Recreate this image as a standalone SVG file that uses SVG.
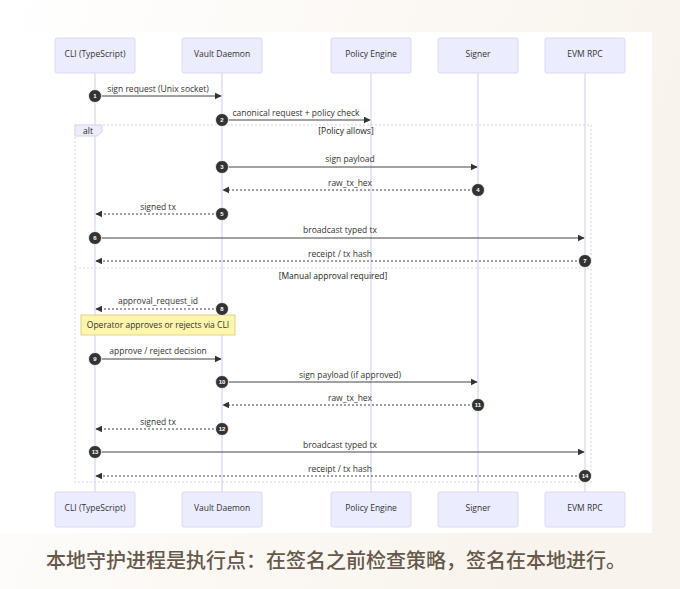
<svg xmlns="http://www.w3.org/2000/svg" width="680" height="589" viewBox="0 0 680 589">
<defs>
<linearGradient id="bg" x1="0" y1="0" x2="1" y2="0.3">
<stop offset="0" stop-color="#ffffff"/>
<stop offset="0.5" stop-color="#fcf9f5"/>
<stop offset="1" stop-color="#f8f3ec"/>
</linearGradient>
<marker id="ah" viewBox="0 0 10 10" refX="9" refY="5" markerWidth="7" markerHeight="7" orient="auto-start-reverse" markerUnits="userSpaceOnUse">
<path d="M0,0 L10,5 L0,10 z" fill="#333"/>
</marker>
<style>
.actor{fill:#ececff;stroke:#dcd8f4;stroke-width:1}
.atext{font-family:"Open Sans","Liberation Sans",sans-serif;font-size:8.5px;fill:#333;text-anchor:middle;dominant-baseline:central}
.life{stroke:#d9d5ef;stroke-width:1.2}
.msg{stroke:#444;stroke-width:1.2;fill:none}
.dash{stroke:#444;stroke-width:1.1;fill:none;stroke-dasharray:2,2}
.mtext{font-family:"Open Sans","Liberation Sans",sans-serif;font-size:8.5px;fill:#333;text-anchor:middle}
.num{fill:#333;stroke:#fff;stroke-width:0.8}
.ntext{font-family:"Liberation Sans",sans-serif;font-size:6px;fill:#fff;text-anchor:middle;dominant-baseline:central;font-weight:bold}
.frame{fill:none;stroke:#d6d6e6;stroke-width:1;stroke-dasharray:2,2}
.ftext{font-family:"Open Sans","Liberation Sans",sans-serif;font-size:8.5px;fill:#222;text-anchor:middle}
</style>
</defs>
<rect x="0" y="0" width="680" height="589" fill="url(#bg)"/>
<rect x="0" y="32" width="652" height="501" fill="#ffffff"/>

<g id="lifelines">
<line class="life" x1="95" y1="73" x2="95" y2="492"/>
<line class="life" x1="222" y1="73" x2="222" y2="492"/>
<line class="life" x1="371" y1="73" x2="371" y2="492"/>
<line class="life" x1="478" y1="73" x2="478" y2="492"/>
<line class="life" x1="585" y1="73" x2="585" y2="492"/>
</g>

<g id="frame-alt">
<rect class="frame" x="75" y="125" width="516" height="357"/>
<path d="M75,125 L102,125 L102,132 L97,136 L75,136 z" fill="#ececff" stroke="#d6d6e6" stroke-width="1"/>
<text class="ftext" x="88" y="134">alt</text>
<text class="ftext" x="346" y="134">[Policy allows]</text>
<line class="frame" x1="75" y1="268" x2="591" y2="268"/>
<text class="ftext" x="333" y="279">[Manual approval required]</text>
</g>

<g id="actor-cli-top"><rect class="actor" x="55" y="38" width="80" height="35" rx="2"/><text class="atext" x="95" y="53">CLI (TypeScript)</text></g>
<g id="actor-vault-top"><rect class="actor" x="182" y="38" width="80" height="35" rx="2"/><text class="atext" x="222" y="53">Vault Daemon</text></g>
<g id="actor-policy-top"><rect class="actor" x="331" y="38" width="80" height="35" rx="2"/><text class="atext" x="371" y="53">Policy Engine</text></g>
<g id="actor-signer-top"><rect class="actor" x="438" y="38" width="80" height="35" rx="2"/><text class="atext" x="478" y="53">Signer</text></g>
<g id="actor-evm-top"><rect class="actor" x="545" y="38" width="80" height="35" rx="2"/><text class="atext" x="585" y="53">EVM RPC</text></g>

<g id="actor-cli-bottom"><rect class="actor" x="55" y="492" width="80" height="35" rx="2"/><text class="atext" x="95" y="507">CLI (TypeScript)</text></g>
<g id="actor-vault-bottom"><rect class="actor" x="182" y="492" width="80" height="35" rx="2"/><text class="atext" x="222" y="507">Vault Daemon</text></g>
<g id="actor-policy-bottom"><rect class="actor" x="331" y="492" width="80" height="35" rx="2"/><text class="atext" x="371" y="507">Policy Engine</text></g>
<g id="actor-signer-bottom"><rect class="actor" x="438" y="492" width="80" height="35" rx="2"/><text class="atext" x="478" y="507">Signer</text></g>
<g id="actor-evm-bottom"><rect class="actor" x="545" y="492" width="80" height="35" rx="2"/><text class="atext" x="585" y="507">EVM RPC</text></g>

<g id="note">
<rect x="81" y="315" width="154" height="20" fill="#fff5ad" stroke="#e0d488" stroke-width="1"/>
<text class="mtext" x="158" y="328" fill="#222">Operator approves or rejects via CLI</text>
</g>

<g id="connectors">
<text class="mtext" x="158" y="92">sign request (Unix socket)</text>
<line class="msg" x1="95" y1="96" x2="221" y2="96" marker-end="url(#ah)"/>
<text class="mtext" x="296" y="116">canonical request + policy check</text>
<line class="msg" x1="222" y1="120" x2="370" y2="120" marker-end="url(#ah)"/>
<text class="mtext" x="350" y="162">sign payload</text>
<line class="msg" x1="222" y1="167" x2="477" y2="167" marker-end="url(#ah)"/>
<text class="mtext" x="350" y="186">raw_tx_hex</text>
<line class="dash" x1="478" y1="190" x2="223" y2="190" marker-end="url(#ah)"/>
<text class="mtext" x="158" y="210">signed tx</text>
<line class="dash" x1="222" y1="214" x2="96" y2="214" marker-end="url(#ah)"/>
<text class="mtext" x="340" y="233">broadcast typed tx</text>
<line class="msg" x1="95" y1="238" x2="584" y2="238" marker-end="url(#ah)"/>
<text class="mtext" x="340" y="257">receipt / tx hash</text>
<line class="dash" x1="585" y1="261" x2="96" y2="261" marker-end="url(#ah)"/>
<text class="mtext" x="158" y="304">approval_request_id</text>
<line class="dash" x1="222" y1="309" x2="96" y2="309" marker-end="url(#ah)"/>
<text class="mtext" x="158" y="354">approve / reject decision</text>
<line class="msg" x1="95" y1="359" x2="221" y2="359" marker-end="url(#ah)"/>
<text class="mtext" x="350" y="378">sign payload (if approved)</text>
<line class="msg" x1="222" y1="382" x2="477" y2="382" marker-end="url(#ah)"/>
<text class="mtext" x="350" y="401">raw_tx_hex</text>
<line class="dash" x1="478" y1="405" x2="223" y2="405" marker-end="url(#ah)"/>
<text class="mtext" x="158" y="425">signed tx</text>
<line class="dash" x1="222" y1="429" x2="96" y2="429" marker-end="url(#ah)"/>
<text class="mtext" x="340" y="448">broadcast typed tx</text>
<line class="msg" x1="95" y1="452" x2="584" y2="452" marker-end="url(#ah)"/>
<text class="mtext" x="340" y="472">receipt / tx hash</text>
<line class="dash" x1="585" y1="476" x2="96" y2="476" marker-end="url(#ah)"/>
</g>

<g id="sequence-numbers">
<circle class="num" cx="95" cy="96" r="6.5"/><text class="ntext" x="95" y="96">1</text>
<circle class="num" cx="222" cy="120" r="6.5"/><text class="ntext" x="222" y="120">2</text>
<circle class="num" cx="222" cy="167" r="6.5"/><text class="ntext" x="222" y="167">3</text>
<circle class="num" cx="478" cy="190" r="6.5"/><text class="ntext" x="478" y="190">4</text>
<circle class="num" cx="222" cy="214" r="6.5"/><text class="ntext" x="222" y="214">5</text>
<circle class="num" cx="95" cy="238" r="6.5"/><text class="ntext" x="95" y="238">6</text>
<circle class="num" cx="585" cy="261" r="6.5"/><text class="ntext" x="585" y="261">7</text>
<circle class="num" cx="222" cy="309" r="6.5"/><text class="ntext" x="222" y="309">8</text>
<circle class="num" cx="95" cy="359" r="6.5"/><text class="ntext" x="95" y="359">9</text>
<circle class="num" cx="222" cy="382" r="6.5"/><text class="ntext" x="222" y="382">10</text>
<circle class="num" cx="478" cy="405" r="6.5"/><text class="ntext" x="478" y="405">11</text>
<circle class="num" cx="222" cy="429" r="6.5"/><text class="ntext" x="222" y="429">12</text>
<circle class="num" cx="95" cy="452" r="6.5"/><text class="ntext" x="95" y="452">13</text>
<circle class="num" cx="585" cy="476" r="6.5"/><text class="ntext" x="585" y="476">14</text>
</g>

<text x="336" y="568" font-family="'Noto Sans CJK SC',sans-serif" font-size="20" font-weight="500" fill="#66584a" text-anchor="middle">本地守护进程是执行点：在签名之前检查策略，签名在本地进行。</text>
</svg>
